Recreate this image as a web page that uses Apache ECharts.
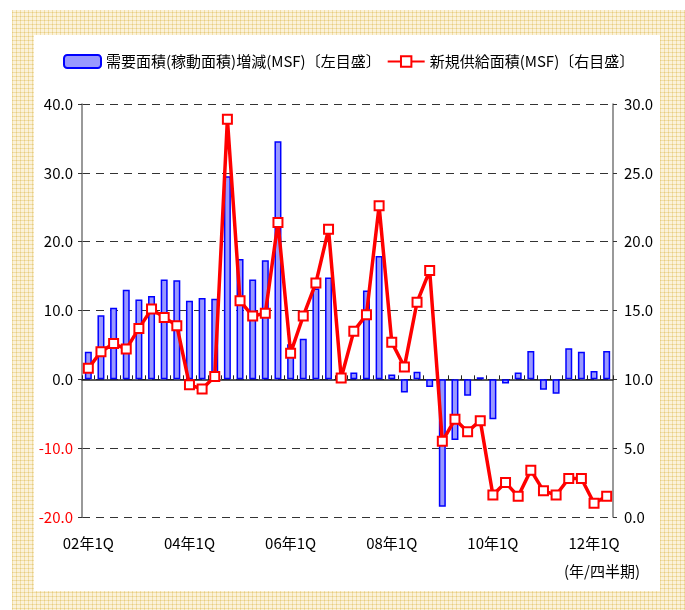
<!DOCTYPE html>
<html>
<head>
<meta charset="utf-8">
<script src="https://cdn.jsdelivr.net/npm/echarts@6/dist/echarts.min.js"></script>
<style>
  html, body { margin: 0; padding: 0; background: #fff; }
  #chart { width: 685px; height: 610px; }
</style>
</head>
<body>
<div id="chart"></div>
<script>
// quarters 02年1Q .. 12年2Q
const quarters = [
    '02年1Q','02年2Q','02年3Q','02年4Q','03年1Q','03年2Q','03年3Q','03年4Q',
    '04年1Q','04年2Q','04年3Q','04年4Q','05年1Q','05年2Q','05年3Q','05年4Q',
    '06年1Q','06年2Q','06年3Q','06年4Q','07年1Q','07年2Q','07年3Q','07年4Q',
    '08年1Q','08年2Q','08年3Q','08年4Q','09年1Q','09年2Q','09年3Q','09年4Q',
    '10年1Q','10年2Q','10年3Q','10年4Q','11年1Q','11年2Q','11年3Q','11年4Q',
    '12年1Q','12年2Q'
];

// 需要面積(稼動面積)増減 - left axis
const demandChange = [
    4.0, 9.3, 10.4, 13.0, 11.6, 12.1, 14.5, 14.4,
    11.4, 11.8, 11.7, 29.5, 17.5, 14.5, 17.3, 34.6,
    5.1, 5.9, 13.2, 14.8, 0.1, 1.0, 12.9, 17.9,
    0.7, -1.9, 1.1, -1.1, -18.5, -8.8, -2.4, 0.3,
    -5.8, -0.6, 1.0, 4.1, -1.5, -2.1, 4.5, 4.0,
    1.2, 4.1
];

// 新規供給面積 - right axis
const newSupply = [
    10.8, 12.0, 12.6, 12.2, 13.7, 15.1, 14.5, 13.9,
    9.6, 9.3, 10.2, 28.9, 15.7, 14.6, 14.8, 21.4,
    11.9, 14.6, 17.0, 20.9, 10.1, 13.5, 14.7, 22.6,
    12.7, 10.9, 15.6, 17.9, 5.5, 7.1, 6.2, 7.0,
    1.6, 2.5, 1.5, 3.4, 1.9, 1.6, 2.8, 2.8,
    1.0, 1.5
];

const leftTicks = { min: -20, max: 40, step: 10 };
const rightTicks = { min: 0, max: 30, step: 5 };

const numFont = "'Liberation Sans Narrow', 'Noto Sans CJK JP', sans-serif";
const jpFont = "'Noto Sans CJK JP', sans-serif";

// beige checked frame pattern
function makePattern() {
    const c = document.createElement('canvas');
    c.width = 4; c.height = 4;
    const g = c.getContext('2d');
    g.fillStyle = '#fbf2da';
    g.fillRect(0, 0, 4, 4);
    g.fillStyle = '#f1dea8';
    g.fillRect(0, 0, 4, 1);
    g.fillRect(0, 0, 1, 4);
    g.fillStyle = '#e6cc80';
    g.fillRect(0, 0, 1, 1);
    return c;
}

const chart = echarts.init(document.getElementById('chart'));

chart.setOption({
    animation: false,
    backgroundColor: '#ffffff',
    graphic: [
        { type: 'rect', z: -20, shape: { x: 12, y: 10, width: 673, height: 600 },
          style: { fill: { image: makePattern(), repeat: 'repeat' } } },
        { type: 'rect', z: -19, shape: { x: 34, y: 35, width: 626, height: 556 },
          style: { fill: '#ffffff' } },
        { type: 'text', z: 10, right: 45, top: 564,
          style: { text: '(年/四半期)', font: '15px ' + jpFont, fill: '#000' } }
    ],
    legend: {
        left: 58,
        top: 49,
        itemGap: 6,
        itemWidth: 37,
        itemHeight: 13,
        textStyle: { fontFamily: jpFont, fontSize: 15, color: '#000' },
        data: ['需要面積(稼動面積)増減(MSF)〔左目盛〕', '新規供給面積(MSF)〔右目盛〕']
    },
    grid: { left: 82, right: 72, top: 104, bottom: 93 },
    xAxis: [
        {
            type: 'category',
            data: quarters,
            position: 'bottom',
            axisLine: { show: false, onZero: false },
            axisTick: { show: false },
            axisLabel: {
                interval: 7, margin: 19,
                fontFamily: numFont, fontSize: 15, color: '#000'
            }
        },
        {
            type: 'category',
            data: quarters,
            position: 'bottom',
            axisLine: { show: true, onZero: true, onZeroAxisIndex: 0,
                        lineStyle: { color: '#222', width: 1.5 } },
            axisTick: { show: true, inside: true, interval: 0, length: 4,
                        lineStyle: { color: '#222', width: 1 } },
            axisLabel: { show: false }
        }
    ],
    yAxis: [
        {
            type: 'value',
            min: leftTicks.min, max: leftTicks.max, interval: leftTicks.step,
            axisLine: { show: true, lineStyle: { color: '#777', width: 1.5 } },
            axisTick: { show: true, length: 4, lineStyle: { color: '#333' } },
            splitLine: { show: true, lineStyle: { color: '#333', type: [8, 6], width: 1 } },
            axisLabel: {
                margin: 9,
                fontFamily: numFont, fontSize: 15,
                formatter: v => v.toFixed(1),
                color: v => (Number(v) < 0 ? '#ff0000' : '#000')
            }
        },
        {
            type: 'value',
            min: rightTicks.min, max: rightTicks.max, interval: rightTicks.step,
            axisLine: { show: true, lineStyle: { color: '#777', width: 1.5 } },
            axisTick: { show: true, length: 4, lineStyle: { color: '#333' } },
            splitLine: { show: false },
            axisLabel: {
                margin: 11,
                fontFamily: numFont, fontSize: 15, color: '#000',
                formatter: v => v.toFixed(1)
            }
        }
    ],
    series: [
        {
            name: '需要面積(稼動面積)増減(MSF)〔左目盛〕',
            type: 'bar',
            xAxisIndex: 0,
            yAxisIndex: 0,
            barWidth: 7,
            data: demandChange,
            itemStyle: { color: '#9999ff', borderColor: '#0000ff', borderWidth: 1.5 }
        },
        {
            name: '新規供給面積(MSF)〔右目盛〕',
            type: 'line',
            xAxisIndex: 0,
            yAxisIndex: 1,
            data: newSupply,
            symbol: 'rect',
            symbolSize: 9,
            showSymbol: true,
            showAllSymbol: true,
            z: 5,
            lineStyle: { color: '#ff0000', width: 3.5 },
            itemStyle: { color: '#ffffff', borderColor: '#ff0000', borderWidth: 2 }
        }
    ]
});
</script>
</body>
</html>
